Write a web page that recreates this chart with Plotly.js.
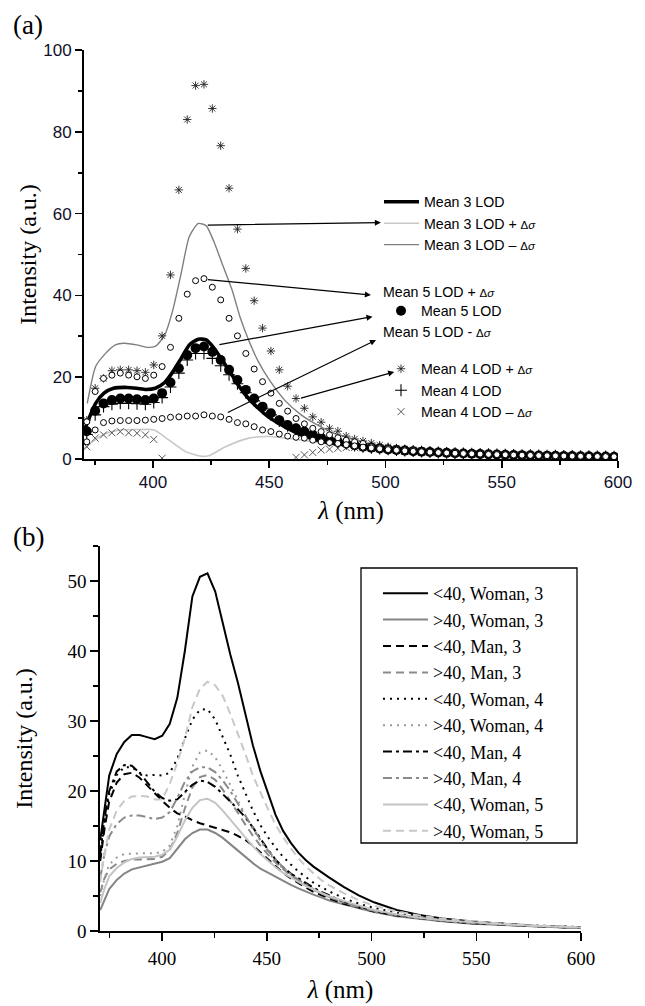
<!DOCTYPE html>
<html>
<head>
<meta charset="utf-8">
<script src="https://cdn.plot.ly/plotly-3.0.1.min.js"></script>
<style>html,body{margin:0;padding:0;background:#fff}#chart{width:645px;height:1006px}</style>
</head>
<body>
<div id="chart"></div>
<script>
// ---------------- Panel (a) data ----------------
const WL_A = [371.5, 375.1, 378.7, 382.3, 385.9, 389.5, 393.1, 396.7, 400.3, 403.9,
  407.5, 411.1, 414.7, 418.3, 421.9, 425.5, 429.1, 432.7, 436.3, 439.9,
  443.5, 447.1, 450.7, 454.3, 457.9, 461.5, 465.1, 468.7, 472.3, 475.9,
  479.5, 483.1, 486.7, 490.3, 493.9, 497.5, 501.1, 504.7, 508.3, 511.9,
  515.5, 519.1, 522.7, 526.3, 529.9, 533.5, 537.1, 540.7, 544.3, 547.9,
  551.5, 555.1, 558.7, 562.3, 565.9, 569.5, 573.1, 576.7, 580.3, 583.9,
  587.5, 591.1, 594.7, 598.3];

const MEAN4_PLUS = [9.5, 17.3, 19.7, 21.6, 21.8, 21.8, 21.6, 21.2, 23.0, 30.1,
  45.0, 65.8, 83.0, 91.3, 91.6, 85.7, 76.6, 66.2, 56.2, 46.6,
  38.7, 32.0, 26.4, 21.8, 17.8, 14.8, 12.4, 10.3, 9.0, 7.5,
  6.8, 5.6, 4.9, 4.4, 3.9, 3.4, 3.0, 2.7, 2.45, 2.25,
  2.08, 1.93, 1.8, 1.68, 1.57, 1.48, 1.39, 1.31, 1.24, 1.17,
  1.11, 1.05, 1.0, 0.95, 0.9, 0.86, 0.82, 0.78, 0.75, 0.72,
  0.68, 0.65, 0.62, 0.59];

const MEAN4 = [6.0, 10.8, 12.8, 13.4, 13.6, 13.6, 13.5, 13.4, 13.8, 15.0,
  17.6, 21.0, 24.2, 25.8, 25.8, 24.6, 22.8, 20.6, 18.4, 16.2,
  14.2, 12.4, 10.8, 9.3, 8.1, 7.2, 6.5, 5.8, 5.1, 4.5,
  4.1, 3.7, 3.3, 3.0, 2.75, 2.55, 2.35, 2.2, 2.05, 1.92,
  1.8, 1.7, 1.6, 1.5, 1.42, 1.35, 1.28, 1.21, 1.15, 1.09,
  1.04, 0.99, 0.94, 0.9, 0.86, 0.82, 0.78, 0.75, 0.72, 0.69,
  0.66, 0.63, 0.6, 0.57];

// below the axis (not visible in the figure) -> null
const MEAN4_MINUS = [3.0, 5.1, 5.9, 6.4, 6.7, 6.4, 6.3, 5.9, 4.8, 0.2,
  null, null, null, null, null, null, null, null, null, null,
  null, null, null, null, null,
  0.4, 1.0, 1.6, 2.2, 2.4, 2.6, 2.8, 2.8, 2.75, 2.6,
  2.45, 2.3, 2.15, 2.0, 1.88, 1.76, 1.66, 1.56, 1.47, 1.39,
  1.32, 1.25, 1.19, 1.13, 1.07, 1.02, 0.97, 0.92, 0.88, 0.84,
  0.8, 0.77, 0.74, 0.71, 0.68, 0.65, 0.62, 0.59, 0.56];

const MEAN5 = [6.8, 11.8, 13.6, 14.4, 14.8, 14.8, 14.6, 14.4, 14.8, 16.1,
  18.7, 22.2, 25.4, 27.1, 27.5, 26.2, 24.2, 21.8, 19.3, 16.9,
  14.8, 12.8, 11.2, 9.5, 8.3, 7.5, 6.7, 5.9, 5.2, 4.6,
  4.2, 3.8, 3.4, 3.0, 2.75, 2.55, 2.35, 2.2, 2.05, 1.92,
  1.8, 1.7, 1.6, 1.5, 1.42, 1.35, 1.28, 1.21, 1.15, 1.09,
  1.04, 0.99, 0.94, 0.9, 0.86, 0.82, 0.78, 0.75, 0.72, 0.69,
  0.66, 0.63, 0.6, 0.57];

const MEAN5_PLUS = [9.1, 16.5, 19.7, 20.5, 21.0, 20.5, 20.1, 19.7, 20.5, 22.6,
  27.3, 34.4, 40.3, 43.6, 44.1, 42.0, 38.9, 34.4, 30.1, 25.8,
  22.0, 18.9, 16.1, 13.6, 11.7, 9.9, 8.6, 7.5, 6.7, 5.9,
  5.2, 4.6, 4.2, 3.8, 3.0, 2.75, 2.55, 2.35, 2.2, 2.05,
  1.92, 1.8, 1.7, 1.6, 1.5, 1.42, 1.35, 1.28, 1.21, 1.15,
  1.09, 1.04, 0.99, 0.94, 0.9, 0.86, 0.82, 0.78, 0.75, 0.72,
  0.69, 0.66, 0.63, 0.6];

const MEAN5_MINUS = [4.2, 7.1, 8.9, 9.3, 9.4, 9.4, 9.4, 9.5, 9.7, 9.9,
  10.2, 10.3, 10.5, 10.5, 10.8, 10.5, 10.3, 9.7, 8.9, 8.6,
  7.9, 7.1, 6.7, 6.1, 5.6, 5.3, 5.1, 4.6, 4.2, 4.0,
  3.8, 3.5, 3.2, 2.9, 2.7, 2.5, 2.3, 2.15, 2.0, 1.88,
  1.77, 1.67, 1.58, 1.49, 1.41, 1.34, 1.27, 1.2, 1.14, 1.08,
  1.03, 0.98, 0.93, 0.89, 0.85, 0.81, 0.77, 0.74, 0.71, 0.68,
  0.65, 0.62, 0.59, 0.56];

const MEAN3_WL = [370.5, 375.3, 378.9, 383, 388.7, 393, 397, 401, 405, 408.5,
  412.1, 415.6, 419.5, 422.9, 426.2, 429.7, 434, 437.6, 441.1, 445.3,
  449.6, 456.6, 463.7, 470.8, 477.9, 492, 505, 520, 540, 560, 580, 600];
const MEAN3 = [7.1, 13.6, 16.1, 17.3, 17.5, 17.3, 17.0, 17.3, 18.7, 21.3,
  24.6, 27.9, 29.3, 29.1, 27.1, 24.2, 20.5, 17.3, 14.8, 12.4,
  10.3, 7.9, 5.9, 4.6, 3.8, 3.0, 2.4, 1.8, 1.3, 1.0, 0.75, 0.55];

const MEAN3_MINUS_WL = [371.7, 375.3, 378.9, 383.8, 387.3, 393, 397.2, 401.1, 405, 408.5,
  412.1, 415.6, 419.5, 422.9, 426.2, 429.7, 434, 437.6, 441.1, 445.3,
  449.6, 456.6, 463.7, 470.8, 477.9, 484.9, 492, 505, 520, 540, 560, 580, 600];
const MEAN3_MINUS = [13.6, 22.6, 25.4, 27.9, 28.3, 27.9, 27.3, 27.6, 30.3, 36.4,
  45.4, 54.4, 57.6, 57.0, 53.1, 47.8, 41.3, 34.4, 29.1, 23.8,
  19.7, 14.4, 10.8, 8.3, 6.3, 5.1, 3.8, 2.8, 2.0, 1.4, 1.0, 0.75, 0.55];

const MEAN3_PLUS_WL = [370.4, 378.3, 385.5, 393, 400.5, 406.9, 414, 420.5, 424, 431.2,
  441.2, 449.8, 464.1, 478.4, 492.7, 505, 520, 540, 560, 580, 600];
const MEAN3_PLUS = [2.6, 5.9, 7.1, 7.2, 7.1, 4.6, 1.8, 0.7, 0.8, 3.0,
  5.1, 5.5, 4.6, 3.4, 2.6, 2.1, 1.6, 1.2, 0.9, 0.7, 0.5];

// ---------------- Panel (b) data ----------------
const WL_B = [370.5, 372.5, 374.8, 378.4, 382.0, 385.6, 389.3, 392.9, 396.5, 400.1,
  403.7, 407.3, 410.9, 414.5, 418.1, 421.7, 425.4, 429.0, 432.6, 436.2,
  439.8, 443.4, 447.0, 450.6, 454.2, 457.8, 461.5, 465.1, 468.7, 472.3,
  475.9, 479.5, 486.7, 493.9, 501.2, 512.0, 522.8, 533.7, 548.1, 562.5,
  577.0, 591.4, 600];

const B_NAMES = ['&lt;40, Woman, 3', '&gt;40, Woman, 3', '&lt;40, Man, 3', '&gt;40, Man, 3',
  '&lt;40, Woman, 4', '&gt;40, Woman, 4', '&lt;40, Man, 4', '&gt;40, Man, 4',
  '&lt;40, Woman, 5', '&gt;40, Woman, 5'];

const U40_W3 = [13.0, 17.5, 22.2, 25.3, 27.0, 28.0, 28.0, 27.7, 27.4, 27.9,
  29.6, 33.3, 40.0, 47.8, 50.6, 51.1, 48.5, 44.0, 39.5, 35.5,
  31.0, 26.5, 22.8, 19.6, 16.6, 14.3, 12.6, 11.2, 10.1, 9.2,
  8.4, 7.7, 6.3, 5.1, 4.1, 3.0, 2.3, 1.8, 1.35, 1.0,
  0.75, 0.6, 0.5];
const O40_W3 = [3.0, 4.5, 6.0, 7.3, 8.2, 8.8, 9.1, 9.4, 9.6, 9.9,
  10.4, 11.8, 13.1, 14.0, 14.5, 14.5, 14.0, 13.3, 12.4, 11.4,
  10.5, 9.7, 8.9, 8.3, 7.7, 7.1, 6.6, 6.1, 5.6, 5.2,
  4.8, 4.4, 3.8, 3.2, 2.7, 2.1, 1.7, 1.4, 1.05, 0.85,
  0.65, 0.5, 0.45];
const U40_M3 = [10.0, 14.5, 18.5, 21.2, 22.4, 22.6, 21.9, 20.8, 19.6, 18.6,
  17.6, 16.8, 16.4, 15.8, 15.4, 15.1, 14.8, 14.5, 14.1, 13.6,
  13.0, 12.2, 11.2, 10.2, 9.2, 8.3, 7.5, 6.8, 6.2, 5.6,
  5.1, 4.7, 3.9, 3.3, 2.8, 2.2, 1.8, 1.45, 1.1, 0.9,
  0.7, 0.55, 0.5];
const O40_M3 = [5.5, 7.5, 8.8, 9.6, 10.0, 10.2, 10.2, 10.2, 10.3, 10.6,
  11.6, 14.0, 17.5, 20.5, 22.0, 22.3, 21.6, 20.2, 18.6, 16.9,
  15.2, 13.6, 12.2, 10.9, 9.8, 8.8, 7.9, 7.2, 6.5, 5.9,
  5.4, 4.9, 4.1, 3.4, 2.9, 2.3, 1.85, 1.5, 1.15, 0.9,
  0.7, 0.55, 0.5];
const U40_W4 = [10.5, 15.5, 19.5, 22.3, 23.4, 23.4, 22.6, 22.2, 22.3, 22.2,
  22.6, 24.6, 27.5, 30.2, 31.6, 31.7, 30.2, 27.8, 25.2, 22.2,
  19.6, 17.2, 15.1, 13.4, 11.9, 10.6, 9.5, 8.5, 7.7, 6.9,
  6.3, 5.7, 4.7, 3.9, 3.3, 2.6, 2.1, 1.7, 1.3, 1.0,
  0.8, 0.65, 0.55];
const O40_W4 = [5.0, 7.5, 9.5, 10.5, 11.0, 11.1, 11.1, 11.1, 11.1, 11.3,
  12.2, 15.0, 19.5, 23.5, 25.5, 25.8, 24.8, 23.0, 20.8, 18.6,
  16.5, 14.5, 12.8, 11.3, 10.0, 8.9, 8.0, 7.2, 6.5, 5.9,
  5.4, 4.9, 4.1, 3.5, 2.9, 2.3, 1.85, 1.5, 1.15, 0.9,
  0.7, 0.55, 0.5];
const U40_M4 = [11.0, 16.0, 20.0, 22.8, 23.7, 23.6, 22.6, 21.2, 19.9, 19.0,
  18.6, 18.8, 19.8, 20.9, 21.5, 21.3, 20.6, 19.6, 18.5, 17.4,
  16.2, 14.8, 13.2, 11.6, 10.2, 9.1, 8.2, 7.5, 6.8, 6.2,
  5.6, 5.1, 4.2, 3.5, 2.9, 2.3, 1.85, 1.5, 1.15, 0.9,
  0.7, 0.55, 0.5];
const O40_M4 = [7.5, 11.0, 13.5, 15.3, 16.2, 16.5, 16.5, 16.3, 16.0, 16.2,
  17.0, 19.0, 21.3, 22.8, 23.4, 23.4, 22.7, 21.5, 20.0, 18.2,
  16.4, 14.6, 13.0, 11.5, 10.2, 9.1, 8.1, 7.3, 6.6, 6.0,
  5.4, 4.9, 4.1, 3.4, 2.9, 2.3, 1.85, 1.5, 1.15, 0.9,
  0.7, 0.55, 0.5];
const U40_W5 = [4.0, 6.0, 7.8, 9.0, 9.8, 10.3, 10.5, 10.5, 10.6, 10.9,
  11.6, 13.5, 15.8, 17.6, 18.7, 18.9, 18.3, 17.2, 15.9, 14.6,
  13.3, 12.1, 11.0, 10.0, 9.1, 8.3, 7.6, 7.0, 6.4, 5.9,
  5.4, 5.0, 4.3, 3.6, 3.0, 2.4, 1.9, 1.55, 1.2, 0.95,
  0.75, 0.6, 0.5];
const O40_W5 = [7.0, 11.0, 14.5, 17.2, 18.6, 19.2, 19.3, 19.2, 18.8, 18.8,
  21.0, 24.0, 27.5, 32.0, 34.6, 35.6, 35.1, 33.6, 31.0, 28.2,
  25.3, 22.2, 19.7, 17.4, 15.2, 13.4, 11.8, 10.4, 9.2, 8.2,
  7.3, 6.6, 5.4, 4.4, 3.6, 2.8, 2.2, 1.75, 1.35, 1.05,
  0.8, 0.65, 0.55];

// ---------------- Styling ----------------
const SANS = 'Liberation Sans, Arial, sans-serif';
const SERIF = 'Liberation Serif, Times New Roman, serif';
const DS = '<span style="font-size:11.5px">Δ<i>σ</i></span>';
const W = 645, H = 1006;
const px = v => v / W;
const py = v => 1 - v / H;
const LFONT = 14.2;

const traces = [];
// Panel (a) lines
traces.push({x: MEAN3_MINUS_WL, y: MEAN3_MINUS, mode: 'lines', name: 'Mean 3 LOD – ' + DS,
  line: {color: '#7f7f7f', width: 1.4, shape: 'spline', smoothing: 0.6}, legend: 'legend', legendrank: 3,
  xaxis: 'x', yaxis: 'y'});
traces.push({x: MEAN3_PLUS_WL, y: MEAN3_PLUS, mode: 'lines', name: 'Mean 3 LOD + ' + DS,
  line: {color: '#c8c8c8', width: 1.6, shape: 'spline', smoothing: 0.6}, legend: 'legend', legendrank: 2,
  xaxis: 'x', yaxis: 'y'});
traces.push({x: MEAN3_WL, y: MEAN3, mode: 'lines', name: 'Mean 3 LOD',
  line: {color: '#000', width: 3.6, shape: 'spline', smoothing: 0.6}, legend: 'legend', legendrank: 1,
  xaxis: 'x', yaxis: 'y'});
// Panel (a) markers
traces.push({x: WL_A, y: MEAN4_PLUS, mode: 'markers', name: 'Mean 4 LOD + ' + DS,
  marker: {symbol: 'asterisk-open', size: 7, color: '#222', line: {color: '#222', width: 0.9}},
  legend: 'legend3', legendrank: 1, xaxis: 'x', yaxis: 'y'});
traces.push({x: WL_A, y: MEAN4_MINUS, mode: 'markers', name: 'Mean 4 LOD – ' + DS,
  marker: {symbol: 'x-thin-open', size: 7, color: '#555', line: {color: '#555', width: 1}},
  legend: 'legend3', legendrank: 3, xaxis: 'x', yaxis: 'y'});
traces.push({x: WL_A, y: MEAN4, mode: 'markers', name: 'Mean 4 LOD',
  marker: {symbol: 'cross-thin-open', size: 8.5, color: '#000', line: {color: '#000', width: 1.1}},
  legend: 'legend3', legendrank: 2, xaxis: 'x', yaxis: 'y'});
traces.push({x: WL_A, y: MEAN5, mode: 'markers', name: 'Mean 5 LOD',
  marker: {symbol: 'circle', size: 10, color: '#000', line: {width: 0}},
  legend: 'legend2', xaxis: 'x', yaxis: 'y'});
traces.push({x: WL_A, y: MEAN5_PLUS, mode: 'markers', name: 'Mean 5 LOD + Δσ', showlegend: false,
  marker: {symbol: 'circle', size: 6, color: '#fff', line: {color: '#000', width: 1}},
  xaxis: 'x', yaxis: 'y'});
traces.push({x: WL_A, y: MEAN5_MINUS, mode: 'markers', name: 'Mean 5 LOD - Δσ', showlegend: false,
  marker: {symbol: 'circle', size: 6, color: '#fff', line: {color: '#000', width: 1}},
  xaxis: 'x', yaxis: 'y'});

// Panel (b) lines
const B_SERIES = [U40_W3, O40_W3, U40_M3, O40_M3, U40_W4, O40_W4, U40_M4, O40_M4, U40_W5, O40_W5];
const B_STYLE = [
  {color: '#000', dash: 'solid'},
  {color: '#858585', dash: 'solid'},
  {color: '#000', dash: '8px,5px'},
  {color: '#8a8a8a', dash: '8px,5px'},
  {color: '#000', dash: '2px,5px'},
  {color: '#9a9a9a', dash: '2px,5px'},
  {color: '#000', dash: '9px,4px,3px,4px'},
  {color: '#8a8a8a', dash: '9px,4px,3px,4px'},
  {color: '#c4c4c4', dash: 'solid'},
  {color: '#c8c8c8', dash: '8px,5px'}
];
B_SERIES.forEach((ys, i) => {
  traces.push({x: WL_B, y: ys, mode: 'lines', name: B_NAMES[i],
    line: {color: B_STYLE[i].color, dash: B_STYLE[i].dash, width: 2},
    legend: 'legend4', legendrank: i + 1, xaxis: 'x2', yaxis: 'y2'});
});

const axisCommon = {
  showline: true, linecolor: '#000', showgrid: false, zeroline: false,
  ticks: 'outside', tickcolor: '#000', automargin: false, fixedrange: true
};

const legendBase = {
  xanchor: 'left', yanchor: 'top', bgcolor: 'rgba(0,0,0,0)', borderwidth: 0,
  traceorder: 'normal', orientation: 'v', tracegroupgap: 0
};

const arrow = (hx, hy, tx, ty) => ({
  x: hx, y: hy, ax: tx, ay: ty, xref: 'x', yref: 'y', axref: 'x', ayref: 'y',
  text: '', showarrow: true, arrowhead: 2, arrowsize: 1, arrowwidth: 1.2, arrowcolor: '#000',
  standoff: 0, startstandoff: 0
});

const layout = {
  width: W, height: H,
  margin: {l: 0, r: 0, t: 0, b: 0},
  paper_bgcolor: '#fff', plot_bgcolor: 'rgba(0,0,0,0)',
  showlegend: true,
  xaxis: Object.assign({}, axisCommon, {
    domain: [px(84), px(618)], anchor: 'y', range: [370.3, 600],
    tick0: 400, dtick: 50, ticklen: 7, tickwidth: 1.6, linewidth: 2,
    minor: {tick0: 375, dtick: 25, ticks: 'outside', ticklen: 4, tickwidth: 1.6, tickcolor: '#000'},
    tickfont: {family: SANS, size: 17, color: '#10102a'},
    title: {text: '<i>λ</i> (nm)', font: {family: SERIF, size: 25, color: '#000'}, standoff: 10}
  }),
  yaxis: Object.assign({}, axisCommon, {
    domain: [py(459), py(50)], anchor: 'x', range: [0, 100],
    tick0: 0, dtick: 20, ticklen: 7, tickwidth: 1.6, linewidth: 2,
    minor: {tick0: 0, dtick: 10, ticks: 'outside', ticklen: 4, tickwidth: 1.6, tickcolor: '#000'},
    tickfont: {family: SANS, size: 17, color: '#10102a'},
    title: {text: 'Intensity (a.u.)', font: {family: SERIF, size: 24, color: '#000'}, standoff: 0}
  }),
  xaxis2: Object.assign({}, axisCommon, {
    domain: [px(100), px(581)], anchor: 'y2', range: [370.4, 600],
    tick0: 400, dtick: 50, ticklen: 8, tickwidth: 1.5, linewidth: 1.6,
    minor: {tick0: 375, dtick: 25, ticks: 'outside', ticklen: 5, tickwidth: 1.5, tickcolor: '#000'},
    tickfont: {family: SERIF, size: 19, color: '#000'}, ticklabelstandoff: 2,
    title: {text: '<i>λ</i> (nm)', font: {family: SERIF, size: 25, color: '#000'}, standoff: 12}
  }),
  yaxis2: Object.assign({}, axisCommon, {
    domain: [py(931), py(546)], anchor: 'x2', range: [0, 55],
    tick0: 0, dtick: 10, ticklen: 8, tickwidth: 1.5, linewidth: 1.6,
    minor: {tick0: 5, dtick: 10, ticks: 'outside', ticklen: 5, tickwidth: 1.5, tickcolor: '#000'},
    tickfont: {family: SERIF, size: 19, color: '#000'},
    title: {text: 'Intensity (a.u.)', font: {family: SERIF, size: 24, color: '#000'}, standoff: 28}
  }),
  legend: Object.assign({}, legendBase, {x: px(379), y: py(186), itemwidth: 35,
    font: {family: SANS, size: LFONT, color: '#000'}}),
  legend2: Object.assign({}, legendBase, {x: px(381), y: py(295), itemwidth: 30,
    font: {family: SANS, size: LFONT, color: '#000'}}),
  legend3: Object.assign({}, legendBase, {x: px(381), y: py(353), itemwidth: 30,
    font: {family: SANS, size: LFONT, color: '#000'}}),
  legend4: Object.assign({}, legendBase, {x: px(378), y: py(575), itemwidth: 45,
    font: {family: SERIF, size: 18, color: '#000'}}),
  shapes: [
    {type: 'rect', xref: 'paper', yref: 'paper', x0: px(361), x1: px(577), y0: py(843), y1: py(568),
      line: {color: '#000', width: 1.3}, fillcolor: 'rgba(0,0,0,0)'}
  ],
  annotations: [
    {xref: 'paper', yref: 'paper', x: px(11), y: py(8), xanchor: 'left', yanchor: 'top',
      text: '(a)', showarrow: false, font: {family: SERIF, size: 27, color: '#000'}},
    {xref: 'paper', yref: 'paper', x: px(11), y: py(520), xanchor: 'left', yanchor: 'top',
      text: '(b)', showarrow: false, font: {family: SERIF, size: 27, color: '#000'}},
    {xref: 'paper', yref: 'paper', x: px(381), y: py(292), xanchor: 'left', yanchor: 'middle',
      text: 'Mean 5 LOD + ' + DS, showarrow: false, font: {family: SANS, size: LFONT, color: '#000'}},
    {xref: 'paper', yref: 'paper', x: px(381), y: py(332), xanchor: 'left', yanchor: 'middle',
      text: 'Mean 5 LOD - ' + DS, showarrow: false, font: {family: SANS, size: LFONT, color: '#000'}},
    arrow(498.0, 57.8, 422.9, 57.2),
    arrow(493.7, 40.1, 422.9, 43.9),
    arrow(494.4, 34.8, 427.9, 27.9),
    arrow(495.9, 29.1, 431.5, 11.2),
    arrow(503.7, 21.3, 463.0, 14.8)
  ]
};

Plotly.newPlot('chart', traces, layout, {staticPlot: true, displayModeBar: false});
</script>
</body>
</html>
